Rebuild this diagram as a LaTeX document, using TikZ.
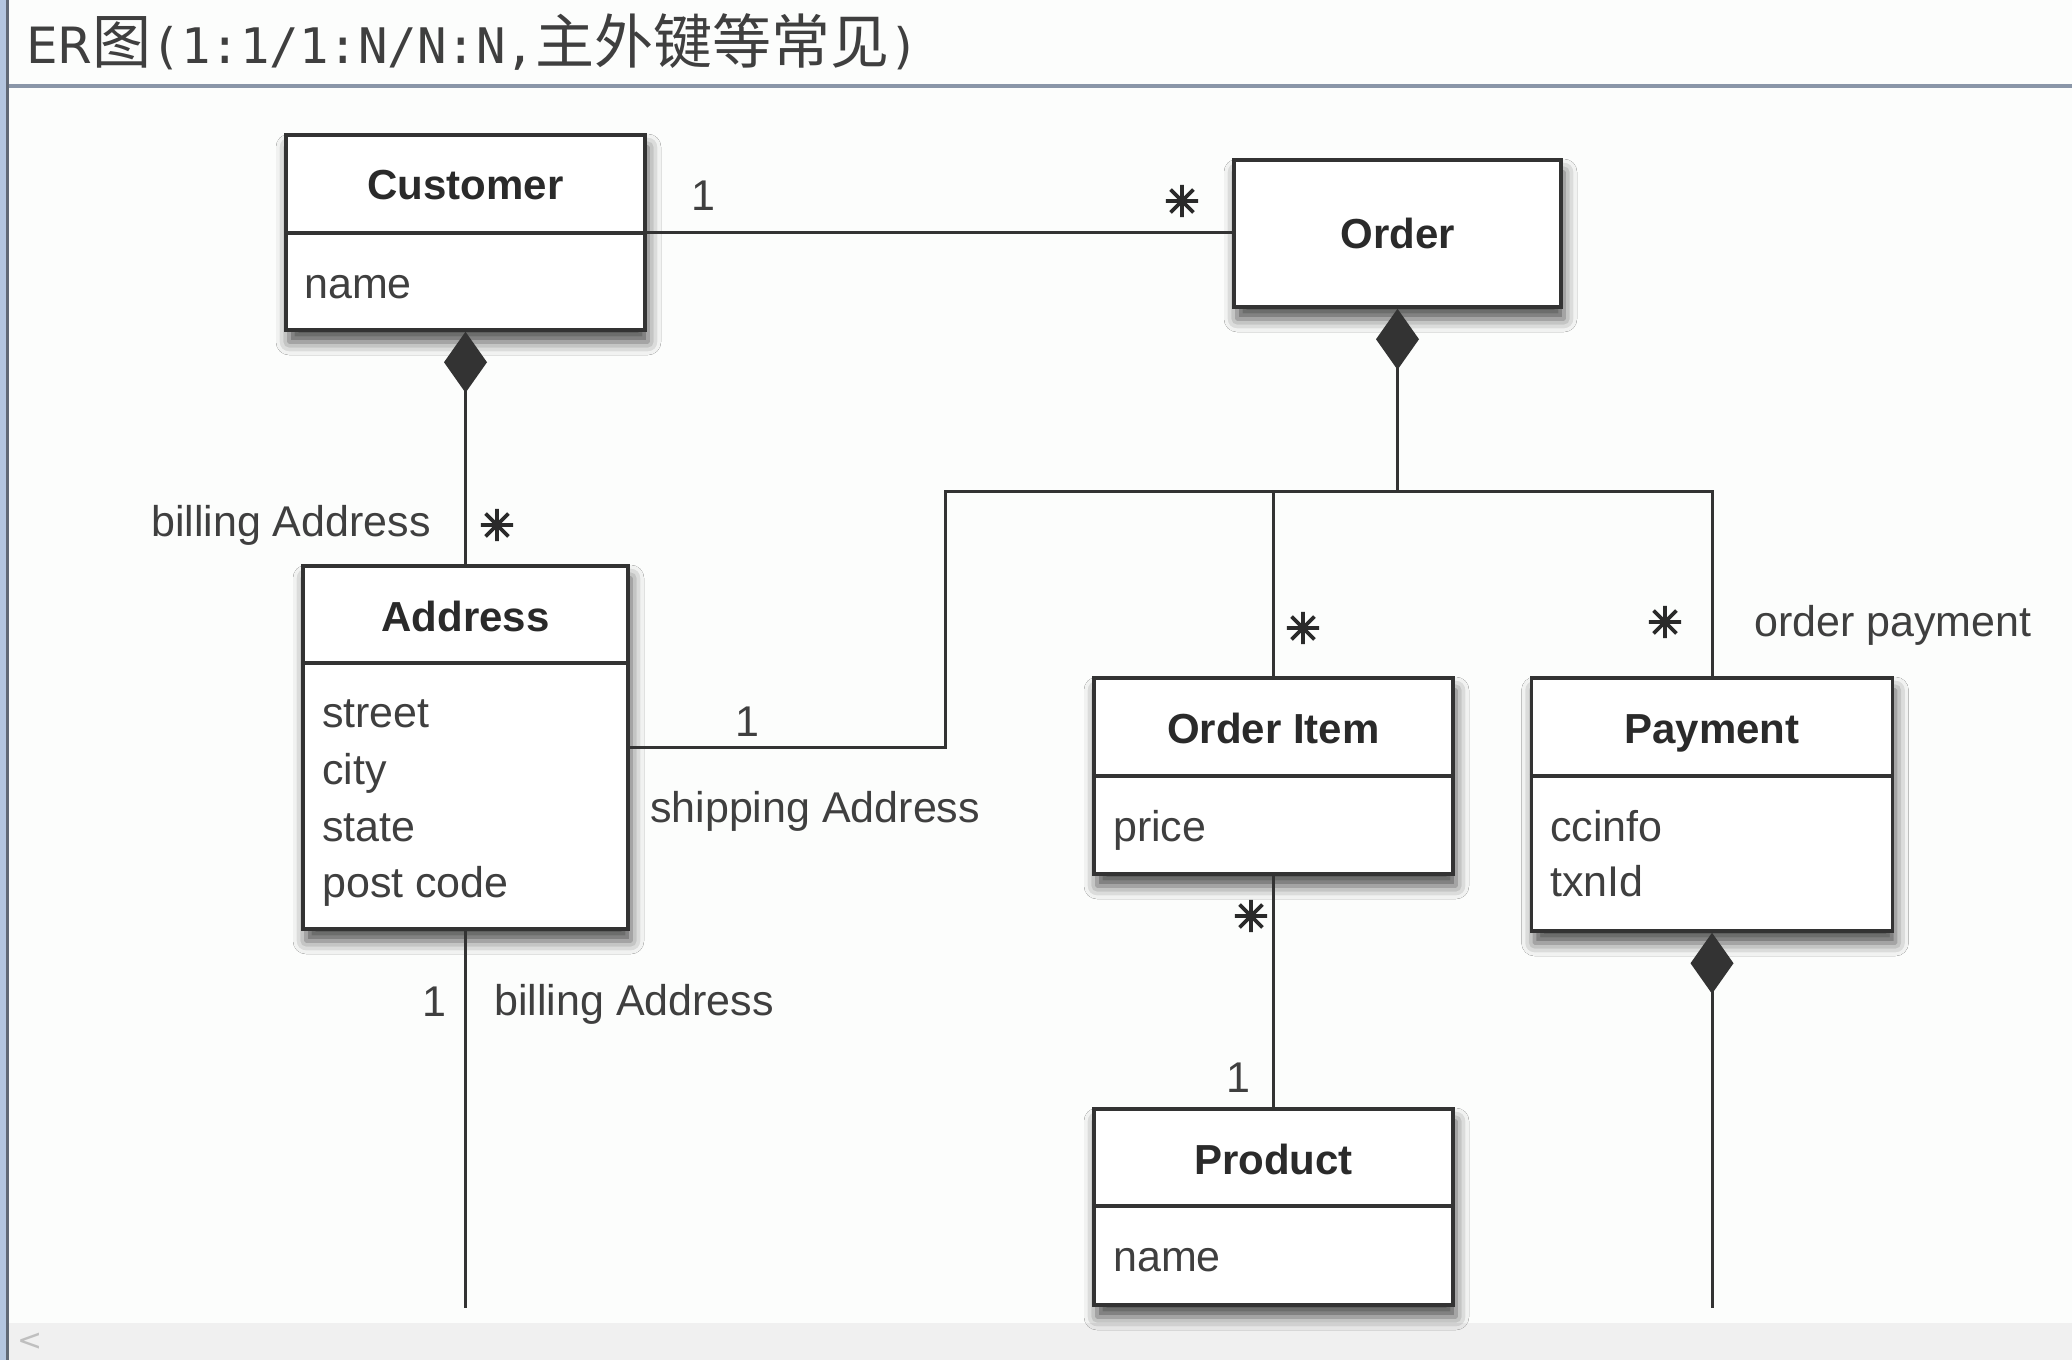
\documentclass[tikz,border=0pt]{standalone}
\usepackage{fontspec}
\setmainfont{Liberation Sans}
\newfontfamily\cjkfont{Noto Sans CJK SC}
\newfontfamily\djsans{DejaVu Sans}
\newfontfamily\djstar{DejaVu Sans}[FakeBold=4]
\newfontfamily\djmono{DejaVu Sans Mono}
\usetikzlibrary{arrows.meta,shadows.blur}
\definecolor{bgc}{HTML}{FCFDFC}
\definecolor{inkc}{HTML}{2A2A2A}
\definecolor{boxc}{HTML}{333333}
\definecolor{sepc}{HTML}{8A96A8}
\definecolor{leftblue}{HTML}{B4C6E0}
\definecolor{bandc}{HTML}{F0F0F0}
\begin{document}
\begin{tikzpicture}[x=1pt,y=-1pt,
  umlbox/.style={draw=boxc, line width=3.5pt, fill=white, inner sep=0pt,
    blur shadow={shadow xshift=3pt, shadow yshift=-12pt, shadow blur radius=13pt, shadow opacity=70}},
  conn/.style={draw=boxc, line width=3pt},
  comp/.style={{Diamond[length=61pt,width=43pt]}-},
  title/.style={inner sep=0pt, text=inkc, font=\bfseries\fontsize{42}{42}\selectfont, anchor=base},
  attr/.style={inner sep=0pt, text=inkc!90, font=\fontsize{43}{43}\selectfont, anchor=base west},
  lbl/.style={inner sep=0pt, text=inkc!90, font=\fontsize{43}{43}\selectfont},
  multstar/.style={inner sep=0pt, text=inkc, font=\djstar\fontsize{42}{42}\selectfont, anchor=center}
]
\useasboundingbox (0,0) rectangle (2072,1360);
\fill[bgc] (0,0) rectangle (2072,1360);
% window chrome
\fill[leftblue] (0,0) rectangle (6,1360);
\draw[line width=3pt, color=sepc!70!black] (7.5,0) -- (7.5,1360);
\draw[line width=4pt, color=sepc] (9,86) -- (2072,86);
\fill[bandc] (9,1323) rectangle (2072,1360);
\node[inner sep=0pt, text=black!25, font=\djsans\fontsize{30}{30}\selectfont] (lt) at (30,1342) {<};
% heading
\node[inner sep=0pt, anchor=base west, text=inkc!90] (head) at (26,63)
  {{\djsans\fontsize{50}{50}\selectfont ER}{\cjkfont\fontsize{59}{59}\selectfont 图}{\djmono\fontsize{49}{49}\selectfont (1:1/1:N/N:N,}{\cjkfont\fontsize{59}{59}\selectfont 主外键等常见}{\djmono\fontsize{49}{49}\selectfont )}};

% boxes
\node[umlbox, minimum width=359pt, minimum height=195pt] (cust) at (465.5,232.5) {};
\node[umlbox, minimum width=327pt, minimum height=147pt] (order) at (1397.5,233.5) {};
\node[umlbox, minimum width=325pt, minimum height=363pt] (addr) at (465.5,747.5) {};
\node[umlbox, minimum width=359pt, minimum height=196pt] (oi) at (1273.5,776) {};
\node[umlbox, minimum width=361pt, minimum height=253pt] (pay) at (1712,804.5) {};
\node[umlbox, minimum width=359pt, minimum height=196pt] (prod) at (1273.5,1207) {};

% separators
\draw[conn, line width=3.5pt] (cust.west |- 0,233) -- (cust.east |- 0,233);
\draw[conn, line width=3.5pt] (addr.west |- 0,663) -- (addr.east |- 0,663);
\draw[conn, line width=3.5pt] (oi.west |- 0,776) -- (oi.east |- 0,776);
\draw[conn, line width=3.5pt] (pay.west |- 0,776) -- (pay.east |- 0,776);
\draw[conn, line width=3.5pt] (prod.west |- 0,1206) -- (prod.east |- 0,1206);

% class names
\node[title] (custT) at (465.5,199) {Customer};
\node[title] (orderT) at (1397.5,248) {Order};
\node[title] (addrT) at (465.5,631) {Address};
\node[title] (oiT) at (1273.5,743) {Order Item};
\node[title] (payT) at (1712,743) {Payment};
\node[title] (prodT) at (1273.5,1174) {Product};

% attributes
\node[attr] (custA) at (304,298) {name};
\node[attr] (addrA1) at (322,727) {street};
\node[attr] (addrA2) at (322,784) {city};
\node[attr] (addrA3) at (322,841) {state};
\node[attr] (addrA4) at (322,897) {post code};
\node[attr] (oiA) at (1113,841) {price};
\node[attr] (payA1) at (1550,841) {ccinfo};
\node[attr] (payA2) at (1550,896) {txnId};
\node[attr] (prodA) at (1113,1271) {name};

% junction points
\coordinate (busL) at (945,491);
\coordinate (busR) at (1712,491);
\coordinate (aend) at (465.5,1308);
\coordinate (pend) at (1712,1308);

% connectors
\draw[conn] (cust.east) -- (cust.east -| order.west);
\draw[conn, comp] (cust.south) -- (addr.north);
\draw[conn, comp] (order.south) -- (order.south |- busL);
\draw[conn] (addr.east) -- (addr.east -| busL) -- (busL) -- (busR) -- (pay.north);
\draw[conn] (oi.north |- busL) -- (oi.north);
\draw[conn] (oi.south) -- (prod.north);
\draw[conn, comp] (pay.south) -- (pend);
\draw[conn] (addr.south) -- (aend);

% multiplicities and roles
\node[lbl, anchor=base] (m1) at (703,210) {1};
\node[multstar] (m2) at (1182,201) {✳};
\node[lbl, anchor=base east] (r1) at (431,536) {billing Address};
\node[multstar] (m3) at (497,525) {✳};
\node[lbl, anchor=base] (m4) at (747,736) {1};
\node[lbl, anchor=base west] (r2) at (650,822) {shipping Address};
\node[multstar] (m5) at (1303,628) {✳};
\node[multstar] (m6) at (1665,622) {✳};
\node[lbl, anchor=base west] (r3) at (1754,636) {order payment};
\node[multstar] (m7) at (1251,916) {✳};
\node[lbl, anchor=base] (m8) at (1238,1092) {1};
\node[lbl, anchor=base] (m9) at (434,1016) {1};
\node[lbl, anchor=base west] (r4) at (494,1015) {billing Address};
\end{tikzpicture}
\end{document}
